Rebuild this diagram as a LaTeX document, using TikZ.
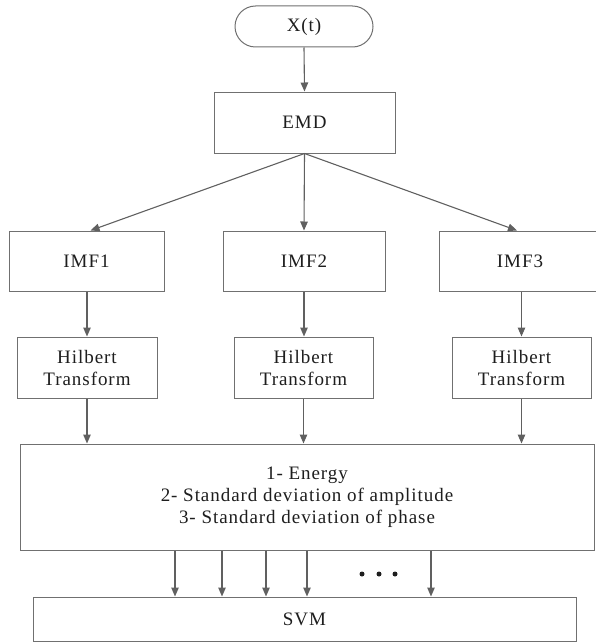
\documentclass[tikz,border=0pt]{standalone}
\usepackage{fontspec}
\setmainfont[LetterSpace=5.0]{Liberation Serif}
\usetikzlibrary{arrows.meta}
\definecolor{boxgray}{RGB}{112,112,112}
\definecolor{arrgray}{RGB}{96,96,96}
\definecolor{txt}{RGB}{30,30,30}
\begin{document}
\begin{tikzpicture}[x=1pt,y=-1pt,
  box/.style={draw=boxgray, line width=1pt, fill=white, inner sep=0pt, align=center,
    text=txt, font=\fontsize{19}{22}\selectfont},
  arr/.style={draw=arrgray, line width=1.1pt, -{Triangle[length=9pt,width=7.5pt]}},
  dot/.style={circle, fill=txt, inner sep=0pt, minimum size=5pt}]
\useasboundingbox (0,0) rectangle (595,642);
\node[box, rounded corners=20.5pt, minimum width=138pt, minimum height=41pt] (x) at (304,26.5) {X(t)};
\node[box, minimum width=181pt, minimum height=61pt] (emd) at (304.5,122.5) {EMD};
\node[box, minimum width=155pt, minimum height=60pt] (imf1) at (86.5,261) {IMF1};
\node[box, minimum width=162pt, minimum height=60pt] (imf2) at (304,261) {IMF2};
\node[box, minimum width=162pt, minimum height=60pt] (imf3) at (520,261) {IMF3};
\node[box, minimum width=140pt, minimum height=61pt] (h1) at (87,367.5) {Hilbert\\Transform};
\node[box, minimum width=139pt, minimum height=61pt] (h2) at (303.5,367.5) {Hilbert\\Transform};
\node[box, minimum width=139pt, minimum height=61pt] (h3) at (521.5,367.5) {Hilbert\\Transform};
\node[box, minimum width=574pt, minimum height=106pt] (feat) at (307,497)
  {1- Energy\\2- Standard deviation of amplitude\\3- Standard deviation of phase};
\node[box, minimum width=543pt, minimum height=44pt] (svm) at (304.5,619) {SVM};
\draw[arr] (x.south) -- (emd.north);
\draw[arr] (emd.south) -- ([xshift=4pt]imf1.north);
\draw[arr] (emd.south) -- (imf2.north);
\draw[arr] (emd.south) -- ([xshift=-3pt]imf3.north);
\draw[arr] (h1.north |- imf1.south) -- (h1.north);
\draw[arr] (imf2.south) -- (imf2.south |- h2.north);
\draw[arr] (h3.north |- imf3.south) -- (h3.north);
\draw[arr] (h1.south) -- (h1.south |- feat.north);
\draw[arr] (h2.south) -- (h2.south |- feat.north);
\draw[arr] (h3.south) -- (h3.south |- feat.north);
\coordinate (b1) at (175,0);
\coordinate (b2) at (222,0);
\coordinate (b3) at (266,0);
\coordinate (b4) at (307,0);
\coordinate (b5) at (431,0);
\foreach \b in {b1,b2,b3,b4,b5}
  \draw[arr] (feat.south -| \b) -- (svm.north -| \b);
\node[dot] (d1) at (362,574) {};
\node[dot] (d2) at (379,574) {};
\node[dot] (d3) at (395,574) {};
\end{tikzpicture}
\end{document}
